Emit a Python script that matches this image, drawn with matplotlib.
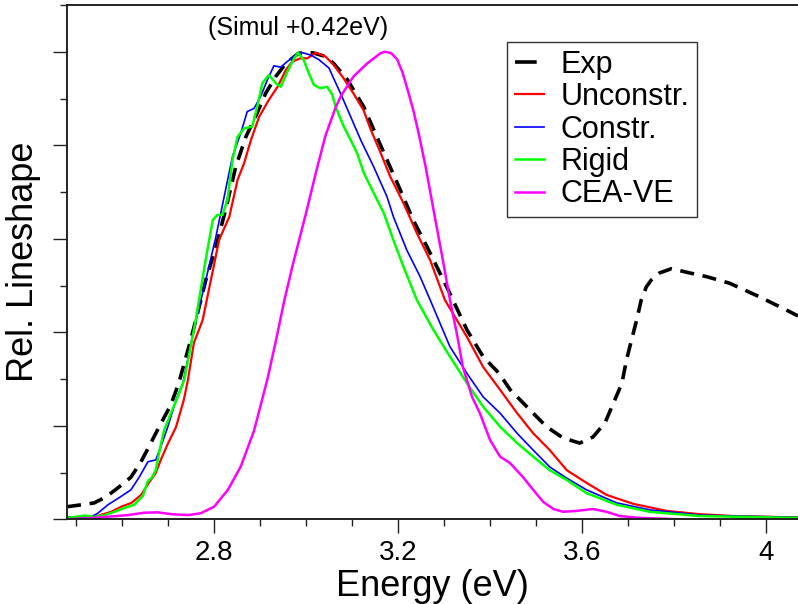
import matplotlib
matplotlib.use("Agg")
import matplotlib.pyplot as plt
from matplotlib.ticker import MultipleLocator, FixedLocator, NullFormatter
from matplotlib.lines import Line2D

plt.rcParams['font.family'] = ['Liberation Sans', 'DejaVu Sans']

# ---- data ----
exp_x = [2.48, 2.489, 2.539, 2.565, 2.593, 2.619, 2.641, 2.658, 2.680, 2.706, 2.723, 2.749,
         2.764, 2.782, 2.804, 2.825, 2.847, 2.869, 2.890, 2.912, 2.934, 2.956, 2.984, 3.014,
         3.042, 3.060, 3.090, 3.125, 3.162, 3.205, 3.233, 3.263, 3.306, 3.350, 3.385, 3.420,
         3.444, 3.480, 3.523, 3.559, 3.595, 3.624, 3.650, 3.667, 3.687, 3.697, 3.708, 3.719,
         3.729, 3.740, 3.751, 3.769, 3.795, 3.834, 3.871, 3.921, 3.986, 4.044, 4.07]
exp_y = [0.027, 0.028, 0.035, 0.048, 0.069, 0.090, 0.123, 0.155, 0.197, 0.245, 0.291, 0.383,
         0.441, 0.512, 0.583, 0.662, 0.754, 0.818, 0.861, 0.911, 0.947, 0.975, 0.997, 0.998,
         0.990, 0.975, 0.940, 0.883, 0.800, 0.704, 0.640, 0.583, 0.497, 0.405, 0.348, 0.312,
         0.277, 0.241, 0.198, 0.174, 0.163, 0.176, 0.206, 0.245, 0.291, 0.341, 0.384, 0.426,
         0.469, 0.497, 0.512, 0.527, 0.536, 0.527, 0.519, 0.505, 0.476, 0.448, 0.435]

unc_x = [2.48, 2.539, 2.576, 2.598, 2.620, 2.641, 2.658, 2.673, 2.684, 2.700, 2.717, 2.734,
         2.743, 2.756, 2.775, 2.793, 2.811, 2.833, 2.851, 2.865, 2.880, 2.898, 2.919, 2.938,
         2.956, 2.970, 2.988, 3.003, 3.021, 3.042, 3.060, 3.081, 3.103, 3.125, 3.140, 3.162,
         3.183, 3.212, 3.241, 3.270, 3.302, 3.350, 3.385, 3.422, 3.459, 3.494, 3.530, 3.567,
         3.610, 3.654, 3.712, 3.784, 3.856, 3.928, 4.07]
unc_y = [0.003, 0.005, 0.016, 0.027, 0.035, 0.052, 0.078, 0.099, 0.127, 0.163, 0.197, 0.255,
         0.298, 0.377, 0.426, 0.512, 0.598, 0.647, 0.726, 0.761, 0.811, 0.861, 0.897, 0.925,
         0.961, 0.979, 0.986, 0.986, 0.998, 0.990, 0.972, 0.944, 0.911, 0.875, 0.835, 0.784,
         0.733, 0.676, 0.612, 0.554, 0.469, 0.390, 0.326, 0.277, 0.227, 0.184, 0.148, 0.105,
         0.078, 0.052, 0.033, 0.018, 0.011, 0.007, 0.004]

con_x = [2.48, 2.532, 2.547, 2.569, 2.593, 2.619, 2.637, 2.656, 2.673, 2.684, 2.699, 2.717,
         2.732, 2.758, 2.782, 2.804, 2.825, 2.840, 2.858, 2.872, 2.887, 2.901, 2.916, 2.930,
         2.945, 2.959, 2.977, 2.992, 3.010, 3.028, 3.050, 3.060, 3.075, 3.097, 3.119, 3.147,
         3.176, 3.190, 3.219, 3.248, 3.270, 3.313, 3.350, 3.385, 3.422, 3.459, 3.494, 3.530,
         3.567, 3.610, 3.676, 3.748, 3.856, 4.07]
con_y = [0.005, 0.005, 0.013, 0.031, 0.046, 0.063, 0.090, 0.123, 0.127, 0.155, 0.197, 0.255,
         0.291, 0.415, 0.512, 0.605, 0.705, 0.776, 0.826, 0.872, 0.879, 0.904, 0.940, 0.970,
         0.967, 0.979, 0.993, 0.998, 0.993, 0.983, 0.965, 0.943, 0.911, 0.861, 0.811, 0.754,
         0.690, 0.647, 0.576, 0.519, 0.469, 0.369, 0.312, 0.262, 0.227, 0.184, 0.148, 0.112,
         0.088, 0.063, 0.035, 0.020, 0.009, 0.004]

rig_x = [2.48, 2.520, 2.539, 2.560, 2.583, 2.604, 2.626, 2.645, 2.655, 2.665, 2.673, 2.680,
         2.691, 2.706, 2.721, 2.735, 2.760, 2.779, 2.797, 2.807, 2.818, 2.829, 2.840, 2.851,
         2.865, 2.883, 2.894, 2.905, 2.919, 2.934, 2.945, 2.959, 2.974, 2.983, 2.995, 3.006,
         3.017, 3.031, 3.046, 3.057, 3.064, 3.082, 3.097, 3.111, 3.126, 3.147, 3.169, 3.190,
         3.212, 3.241, 3.277, 3.313, 3.350, 3.385, 3.422, 3.459, 3.494, 3.530, 3.567, 3.610,
         3.676, 3.748, 3.856, 4.07]
rig_y = [0.003, 0.008, 0.005, 0.008, 0.016, 0.024, 0.031, 0.050, 0.080, 0.090, 0.105, 0.141,
         0.190, 0.227, 0.262, 0.298, 0.426, 0.540, 0.640, 0.651, 0.651, 0.683, 0.769, 0.818,
         0.836, 0.840, 0.883, 0.933, 0.950, 0.933, 0.925, 0.957, 0.986, 0.998, 0.982, 0.954,
         0.929, 0.922, 0.925, 0.908, 0.883, 0.840, 0.811, 0.783, 0.740, 0.698, 0.655, 0.597,
         0.540, 0.469, 0.405, 0.348, 0.291, 0.241, 0.198, 0.163, 0.134, 0.105, 0.084, 0.056,
         0.031, 0.016, 0.007, 0.003]

cea_x = [2.48, 2.537, 2.612, 2.647, 2.677, 2.706, 2.743, 2.771, 2.800, 2.830, 2.858, 2.887,
         2.916, 2.934, 2.952, 2.970, 3.000, 3.021, 3.042, 3.064, 3.075, 3.103, 3.133,
         3.162, 3.172, 3.185, 3.198, 3.210, 3.222, 3.234, 3.245, 3.260, 3.280, 3.300, 3.313,
         3.328, 3.341, 3.361, 3.378, 3.400, 3.422, 3.444, 3.472, 3.494, 3.516, 3.538, 3.559,
         3.588, 3.624, 3.654, 3.682, 3.726, 3.783, 3.810]
cea_y = [0.000, 0.003, 0.009, 0.014, 0.015, 0.011, 0.009, 0.013, 0.027, 0.063, 0.113, 0.190,
         0.300, 0.380, 0.465, 0.540, 0.655, 0.740, 0.820, 0.880, 0.904, 0.947, 0.975,
         0.997, 1.000, 0.997, 0.984, 0.955, 0.915, 0.872, 0.825, 0.754, 0.647, 0.541, 0.469,
         0.397, 0.326, 0.262, 0.227, 0.170, 0.134, 0.120, 0.090, 0.063, 0.037, 0.022, 0.016,
         0.018, 0.022, 0.016, 0.007, 0.003, 0.001, 0.000]

labels = ["Exp", "Unconstr.", "Constr.", "Rigid", "CEA-VE"]
xtick_vals = [2.8, 3.2, 3.6, 4.0]
xtick_labels = ["2.8", "3.2", "3.6", "4"]

# ---- figure ----
fig = plt.figure(figsize=(7.98, 6.04), dpi=100)
ax = fig.add_axes([67/798, (604-519.3)/604, (798-67)/798, (519.3-5)/604])

ax.plot(exp_x, exp_y, color='black', lw=2.6, dashes=(3.9, 2.4), dash_capstyle='butt')
ax.plot(unc_x, unc_y, color='#ff0000', lw=1.6)
ax.plot(con_x, con_y, color='#0000ff', lw=1.2)
ax.plot(rig_x, rig_y, color='#00ff00', lw=1.8)
ax.plot(cea_x, cea_y, color='#ff00ff', lw=1.8)

ax.set_xlim(2.48, 4.07)
ax.set_ylim(0, 1.1)

ax.xaxis.set_major_locator(FixedLocator(xtick_vals))
ax.set_xticklabels(xtick_labels)
ax.xaxis.set_minor_locator(MultipleLocator(0.1))
ax.yaxis.set_major_locator(MultipleLocator(0.2))
ax.yaxis.set_minor_locator(MultipleLocator(0.1))
ax.yaxis.set_major_formatter(NullFormatter())

ax.tick_params(which='both', direction='out', width=1.0, color='#222222')
ax.tick_params(which='major', length=10, labelsize=20, pad=5)
ax.tick_params(which='minor', length=5)
ax.tick_params(axis='y', which='both', left=True, right=False)
ax.tick_params(axis='x', which='both', bottom=True, top=False)

for s in ['left', 'bottom', 'top']:
    ax.spines[s].set_linewidth(1.4)
    ax.spines[s].set_color('#222222')
ax.spines['right'].set_visible(False)

ax.set_xlabel("Energy (eV)", fontsize=26)
ax.xaxis.set_label_coords(0.5, -(596 - 519.3) / 514.3)
ax.xaxis.label.set_va('baseline')
ax.set_ylabel("Rel. Lineshape", fontsize=26)
ax.yaxis.set_label_coords(-(67 - 41) / 731, 0.5)

ax.text(2.983, 1.051, "(Simul +0.42eV)", ha='center', va='center', fontsize=18)

handles = [
    Line2D([], [], color='black', lw=2.6, dashes=(6, 6)),
    Line2D([], [], color='#ff0000', lw=1.6),
    Line2D([], [], color='#0000ff', lw=1.2),
    Line2D([], [], color='#00ff00', lw=1.8),
    Line2D([], [], color='#ff00ff', lw=1.8),
]
leg = ax.legend(handles, labels, loc='upper left', bbox_to_anchor=(0.602, 0.928),
                borderaxespad=0, fontsize=22, frameon=True, fancybox=False,
                handlelength=0.95, handletextpad=0.55, labelspacing=0.08,
                borderpad=0.25)
leg.get_frame().set_edgecolor('#333333')
leg.get_frame().set_linewidth(1.0)
leg.get_frame().set_alpha(1)

fig.savefig("out.png", dpi=100)
